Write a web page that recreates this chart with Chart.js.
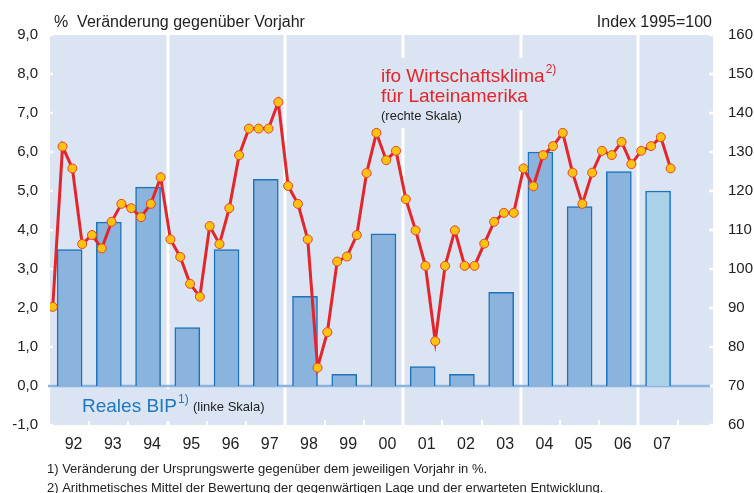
<!DOCTYPE html>
<html>
<head>
<meta charset="utf-8">
<script src="https://cdn.jsdelivr.net/npm/chart.js@4.4.1/dist/chart.umd.min.js"></script>
<style>
    html, body { margin: 0; padding: 0; background: #fff; }
    #wrap { width: 754px; height: 493px; }
</style>
</head>
<body>
<div id="wrap"><canvas id="chart" width="754" height="493"></canvas></div>
<script>
// years on the x axis and their labels
const years = [1992, 1993, 1994, 1995, 1996, 1997, 1998, 1999, 2000, 2001, 2002, 2003, 2004, 2005, 2006, 2007];
const yearLabels = ['92', '93', '94', '95', '96', '97', '98', '99', '00', '01', '02', '03', '04', '05', '06', '07'];

// Reales BIP, % change on previous year (left scale)
const bipValues = [3.5, 4.2, 5.1, 1.5, 3.5, 5.3, 2.3, 0.3, 3.9, 0.5, 0.3, 2.4, 6.0, 4.6, 5.5, 5.0];

// ifo Wirtschaftsklima Lateinamerika, quarterly 92Q1..07Q4 (right scale, 1995=100)
const ifoValues = [
    90.3, 131.4, 125.8, 106.4,
    108.7, 105.3, 112.1, 116.7,
    115.6, 113.3, 116.7, 123.5,
    107.6, 103.1, 96.2, 92.9,
    111.0, 106.4, 115.6, 129.2,
    136.0, 136.0, 136.0, 142.8,
    121.3, 116.7, 107.6, 74.7,
    83.8, 101.9, 103.2, 108.7,
    124.6, 134.9, 127.9, 130.3,
    117.9, 109.9, 100.8, 81.5,
    100.8, 109.9, 100.8, 100.8,
    106.5, 112.1, 114.4, 114.4,
    125.8, 121.2, 129.2, 131.5,
    134.9, 124.7, 116.7, 124.7,
    130.3, 129.2, 132.6, 126.9,
    130.3, 131.5, 133.8, 125.8,
];

// year boundaries with a full white separator
const separatorYears = [1995, 1998, 2001, 2004, 2007];

const leftTicks = [-1, 0, 1, 2, 3, 4, 5, 6, 7, 8, 9];
const rightTicks = [60, 70, 80, 90, 100, 110, 120, 130, 140, 150, 160];

const FONT = '"Liberation Sans", Arial, Helvetica, sans-serif';
const colors = {
    plotBg: '#dae4f3',
    bar: '#8ab4de',
    barLight: '#a9d1e8',
    barBorder: '#1c73bb',
    line: '#e3262b',
    point: '#ffc20e',
    pointBorder: '#e8452c',
    text: '#222222',
    blueText: '#1f78c0',
};

const bipPoints = years.map((y, i) => ({ x: y + 0.5, y: bipValues[i] }));
const ifoPoints = ifoValues.map((v, i) => ({ x: 1992 + i / 4 + 0.07, y: v }));
const barColors = bipValues.map((v, i) => (i === bipValues.length - 1 ? colors.barLight : colors.bar));

function boxText(ctx, x, y, w, h) {
    ctx.fillStyle = colors.plotBg;
    ctx.fillRect(x, y, w, h);
}

const decor = {
    id: 'decor',
    beforeDraw(chart) {
        const { ctx, chartArea: a } = chart;
        ctx.save();
        ctx.fillStyle = '#fff';
        ctx.fillRect(0, 0, chart.width, chart.height);
        ctx.fillStyle = colors.plotBg;
        ctx.fillRect(a.left, a.top, a.right - a.left, a.bottom - a.top);
        ctx.restore();
    },
    beforeDatasetsDraw(chart) {
        const { ctx, chartArea: a, scales } = chart;
        ctx.save();
        ctx.strokeStyle = '#fff';
        // year separators
        for (let y = 1993; y <= 2008; y++) {
            const px = Math.round(scales.x.getPixelForValue(y));
            if (separatorYears.includes(y)) {
                ctx.lineWidth = 3;
                ctx.beginPath();
                ctx.moveTo(px, a.top - 2);
                ctx.lineTo(px, a.bottom);
                ctx.stroke();
            } else {
                ctx.lineWidth = 2;
                ctx.beginPath();
                ctx.moveTo(px, a.bottom - 5);
                ctx.lineTo(px, a.bottom);
                ctx.stroke();
            }
        }
        // inner tick marks on both sides
        ctx.lineWidth = 2.5;
        leftTicks.forEach((t) => {
            const py = scales.y.getPixelForValue(t);
            ctx.beginPath();
            ctx.moveTo(a.left, py);
            ctx.lineTo(a.left + 3, py);
            ctx.stroke();
        });
        rightTicks.forEach((t) => {
            const py = scales.y2.getPixelForValue(t);
            ctx.beginPath();
            ctx.moveTo(a.right - 4, py);
            ctx.lineTo(a.right, py);
            ctx.stroke();
        });
        // zero line
        const py0 = scales.y.getPixelForValue(0);
        ctx.strokeStyle = colors.bar;
        ctx.lineWidth = 2.5;
        ctx.beginPath();
        ctx.moveTo(a.left - 2, py0);
        ctx.lineTo(a.right - 3, py0);
        ctx.stroke();
        ctx.restore();
    },
    afterDraw(chart) {
        const { ctx } = chart;
        ctx.save();
        ctx.textBaseline = 'alphabetic';

        // axis headers
        ctx.fillStyle = colors.text;
        ctx.font = '16px ' + FONT;
        ctx.textAlign = 'left';
        ctx.fillText('%  Veränderung gegenüber Vorjahr', 54, 27);
        ctx.textAlign = 'right';
        ctx.fillText('Index 1995=100', 712, 27);

        // ifo label
        boxText(ctx, 378, 58, 182, 52);
        boxText(ctx, 378, 108, 96, 20);
        ctx.textAlign = 'left';
        ctx.fillStyle = colors.line;
        ctx.font = '19px ' + FONT;
        ctx.fillText('ifo Wirtschaftsklima', 381, 82);
        let w = ctx.measureText('ifo Wirtschaftsklima').width;
        ctx.font = '12px ' + FONT;
        ctx.fillText('2)', 381 + w + 1, 73);
        ctx.font = '19px ' + FONT;
        ctx.fillText('für Lateinamerika', 381, 102);
        ctx.fillStyle = colors.text;
        ctx.font = '13px ' + FONT;
        ctx.fillText('(rechte Skala)', 381, 120);

        // BIP label
        boxText(ctx, 78, 389, 194, 32);
        ctx.fillStyle = colors.blueText;
        ctx.font = '19px ' + FONT;
        ctx.fillText('Reales BIP', 82, 412);
        w = ctx.measureText('Reales BIP').width;
        ctx.font = '12px ' + FONT;
        ctx.fillText('1)', 82 + w + 1, 403);
        ctx.fillStyle = colors.text;
        ctx.font = '13px ' + FONT;
        ctx.fillText('(linke Skala)', 193, 411);

        // footnotes
        ctx.font = '13px ' + FONT;
        ctx.fillText('1) Veränderung der Ursprungswerte gegenüber dem jeweiligen Vorjahr in %.', 47, 473);
        ctx.fillText('2) Arithmetisches Mittel der Bewertung der gegenwärtigen Lage und der erwarteten Entwicklung.', 47, 492);
        ctx.restore();
    },
};

new Chart(document.getElementById('chart'), {
    type: 'bar',
    data: {
        datasets: [
            {
                type: 'line',
                label: 'ifo Wirtschaftsklima',
                data: ifoPoints,
                yAxisID: 'y2',
                borderColor: colors.line,
                borderWidth: 3,
                tension: 0,
                pointRadius: 4.5,
                pointBackgroundColor: colors.point,
                pointBorderColor: colors.pointBorder,
                pointBorderWidth: 1,
                order: 0,
            },
            {
                type: 'bar',
                label: 'Reales BIP',
                data: bipPoints,
                yAxisID: 'y',
                backgroundColor: barColors,
                borderColor: colors.barBorder,
                borderWidth: 1.5,
                barThickness: 25,
                order: 1,
            },
        ],
    },
    options: {
        responsive: false,
        animation: false,
        layout: { padding: { top: 35, left: 0, right: 0, bottom: 0 } },
        plugins: {
            legend: { display: false },
            tooltip: { enabled: false },
        },
        scales: {
            x: {
                type: 'linear',
                min: 1992,
                max: 2008.9,
                offset: false,
                grid: { display: false, drawTicks: false },
                border: { display: false },
                afterBuildTicks: (s) => { s.ticks = years.map((y) => ({ value: y + 0.5 })); },
                afterFit: (s) => { s.height = 68; },
                ticks: {
                    callback: (v, i) => yearLabels[i],
                    autoSkip: false,
                    maxRotation: 0,
                    padding: 10,
                    labelOffset: 4,
                    color: colors.text,
                    font: { family: FONT, size: 16 },
                },
            },
            y: {
                position: 'left',
                min: -1,
                max: 9,
                grid: { display: false, drawTicks: false },
                border: { display: false },
                afterBuildTicks: (s) => { s.ticks = leftTicks.map((v) => ({ value: v })); },
                afterFit: (s) => { s.width = 50; },
                ticks: {
                    callback: (v) => v.toFixed(1).replace('.', ','),
                    padding: 12,
                    color: colors.text,
                    font: { family: FONT, size: 15 },
                },
            },
            y2: {
                position: 'right',
                min: 60,
                max: 160,
                grid: { display: false, drawTicks: false },
                border: { display: false },
                afterBuildTicks: (s) => { s.ticks = rightTicks.map((v) => ({ value: v })); },
                afterFit: (s) => { s.width = 41; },
                ticks: {
                    padding: 15,
                    color: colors.text,
                    font: { family: FONT, size: 15 },
                },
            },
        },
    },
    plugins: [decor],
});
</script>
</body>
</html>
